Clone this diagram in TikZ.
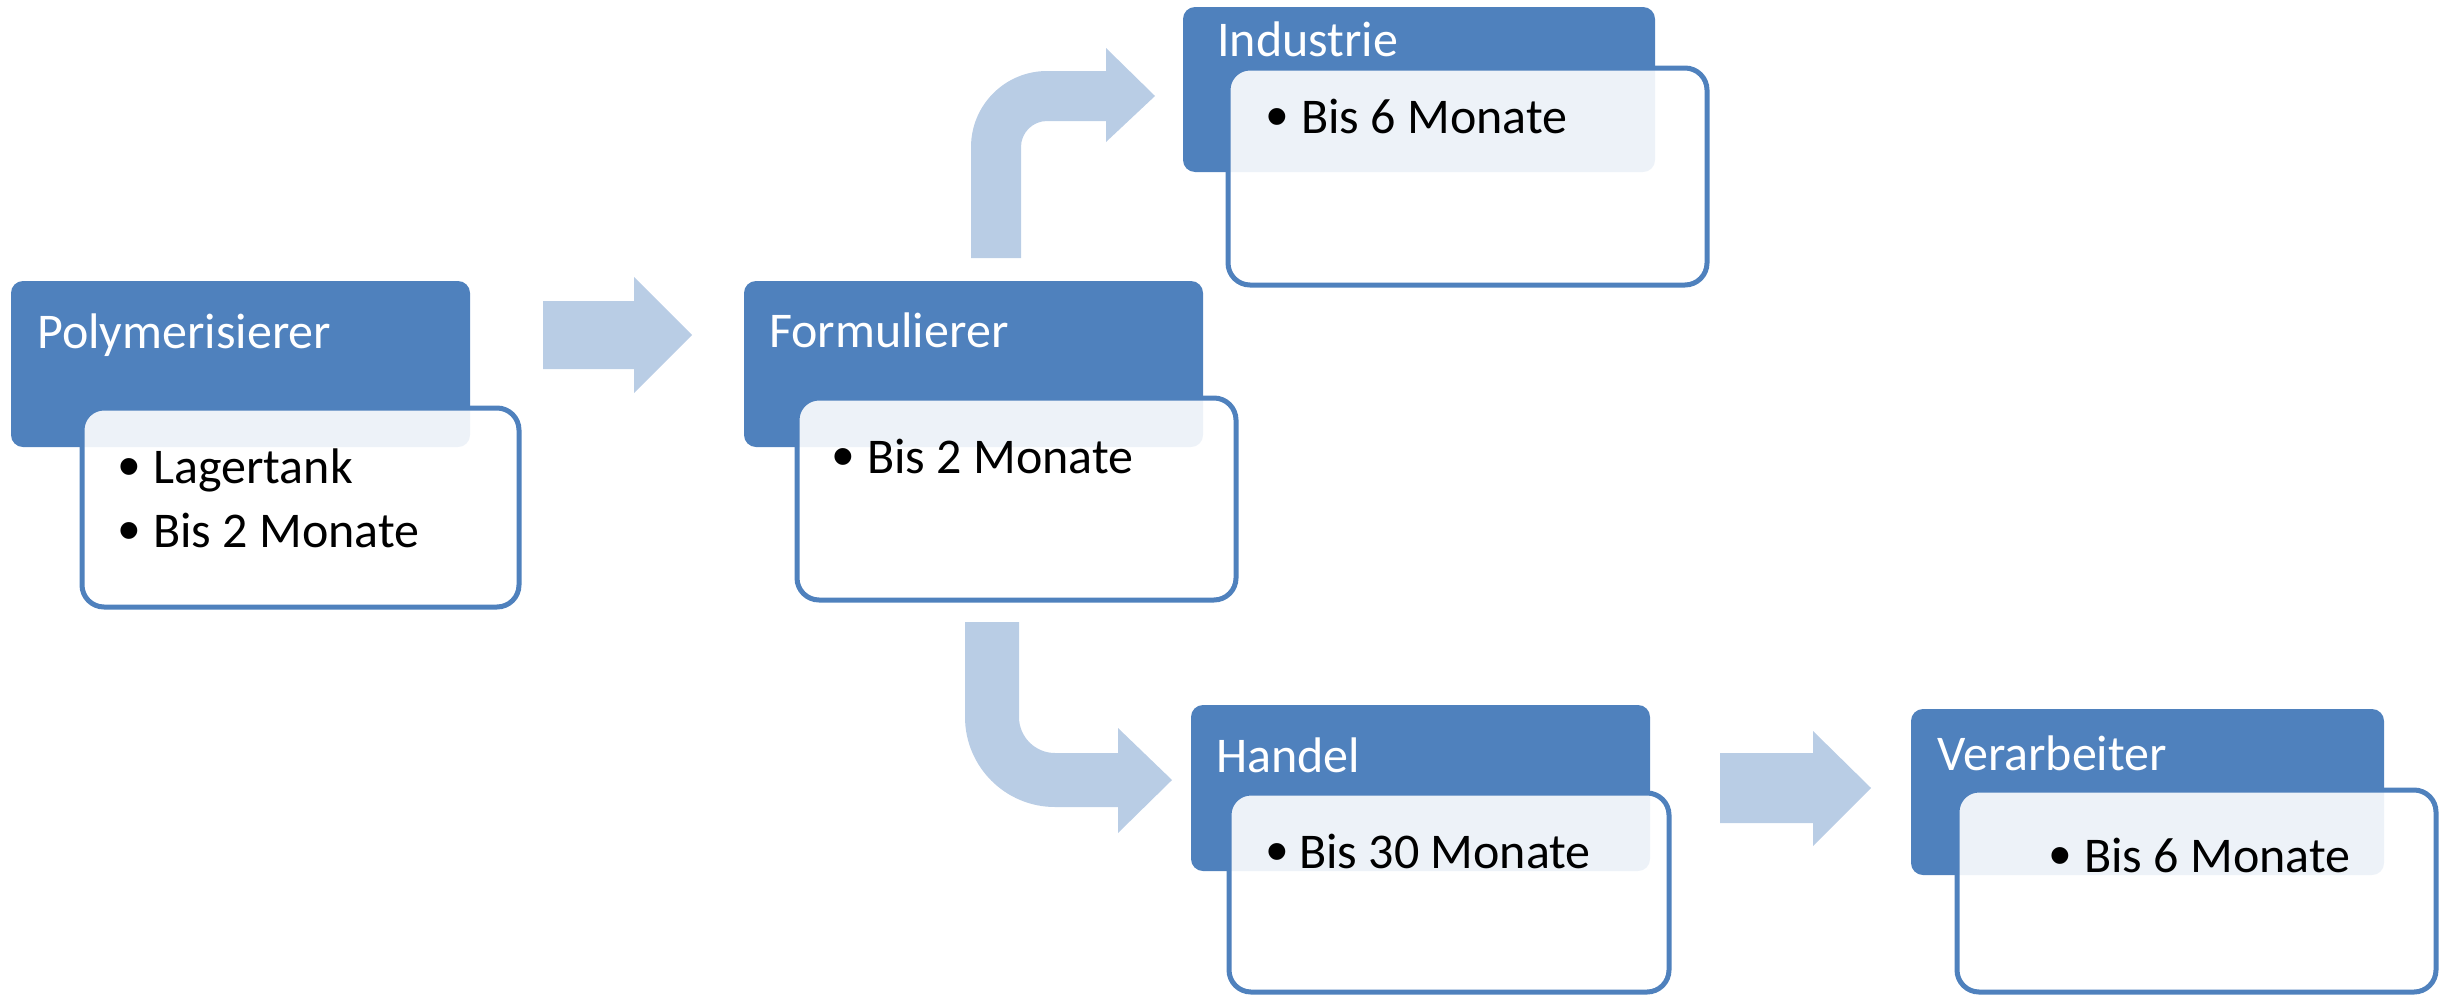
\documentclass[tikz,border=0pt]{standalone}
\usepackage{fontspec}
\setmainfont{Carlito}
\newfontfamily\bulfont{Liberation Sans}
\definecolor{hdr}{RGB}{79,129,189}
\definecolor{arr}{RGB}{185,205,229}
\tikzset{
  hdrbox/.style={rectangle, fill=hdr, draw=none, rounded corners=12pt, inner sep=0pt, outer sep=0pt, anchor=north west},
  cntbox/.style={rectangle, fill=white, fill opacity=0.9, draw=hdr, draw opacity=1, line width=5pt, rounded corners=22pt, inner sep=0pt, outer sep=0pt, anchor=north west},
  ttl/.style={anchor=base west, text=white, inner sep=0pt, font=\fontsize{50}{60}\selectfont},
  itm/.style={anchor=base west, text=black, inner sep=0pt, font=\fontsize{50}{60}\selectfont},
  bul/.style={anchor=base, text=black, inner sep=0pt, yshift=-4pt, font=\bulfont\fontsize{62}{70}\selectfont},
  blockarrow/.style={fill=arr, draw=none}
}
\begin{document}
\begin{tikzpicture}[x=1pt,y=-1pt]
\useasboundingbox (0,0) rectangle (2440,996);

% ---- arrows ----
\fill[blockarrow] (543,301) -- (634,301) -- (634,277) -- (692,335) -- (634,393) -- (634,369) -- (543,369) -- cycle;
\fill[blockarrow] (1720,753) -- (1813,753) -- (1813,731) -- (1871,788) -- (1813,846) -- (1813,823) -- (1720,823) -- cycle;
\fill[blockarrow] (971,258) -- (971,147) arc[start angle=180, end angle=270, radius=76]
   -- (1106,71) -- (1106,48) -- (1155,96) -- (1106,142) -- (1106,121) -- (1047,121)
   arc[start angle=270, end angle=180, radius=26] -- (1021,258) -- cycle;
\fill[blockarrow] (965,622) -- (965,717) arc[start angle=180, end angle=90, radius=90]
   -- (1118,807) -- (1118,833) -- (1172,780) -- (1118,728) -- (1118,753) -- (1055,753)
   arc[start angle=90, end angle=180, radius=36] -- (1019,622) -- cycle;

% ---- Polymerisierer ----
\node[hdrbox, minimum width=459pt, minimum height=166pt] (h1) at (11,281) {};
\node[cntbox, minimum width=437pt, minimum height=199pt] (c1) at (82,408) {};
\node[ttl] (t1) at (37,348) {Polymerisierer};
\node[bul] (b1a) at (129,483) {•};
\node[itm] (i1a) at (153,483) {Lagertank};
\node[bul] (b1b) at (129,547) {•};
\node[itm] (i1b) at (153,547) {Bis 2 Monate};

% ---- Formulierer ----
\node[hdrbox, minimum width=459pt, minimum height=166pt] (h2) at (744,281) {};
\node[cntbox, minimum width=439pt, minimum height=202pt] (c2) at (797,398) {};
\node[ttl] (t2) at (769,347) {Formulierer};
\node[bul] (b2) at (843,473) {•};
\node[itm] (i2) at (867,473) {Bis 2 Monate};

% ---- Industrie ----
\node[hdrbox, minimum width=472pt, minimum height=165pt] (h3) at (1183,7) {};
\node[cntbox, minimum width=479pt, minimum height=217pt] (c3) at (1228,68) {};
\node[ttl] (t3) at (1217,56) {Industrie};
\node[bul] (b3) at (1277,133) {•};
\node[itm] (i3) at (1301,133) {Bis 6 Monate};

% ---- Handel ----
\node[hdrbox, minimum width=459pt, minimum height=166pt] (h4) at (1191,705) {};
\node[cntbox, minimum width=440pt, minimum height=199pt] (c4) at (1229,793) {};
\node[ttl] (t4) at (1216,772) {Handel};
\node[bul] (b4) at (1277,868) {•};
\node[itm] (i4) at (1299,868) {Bis 30 Monate};

% ---- Verarbeiter ----
\node[hdrbox, minimum width=473pt, minimum height=166pt] (h5) at (1911,709) {};
\node[cntbox, minimum width=479pt, minimum height=202pt] (c5) at (1957,790) {};
\node[ttl] (t5) at (1937,770) {Verarbeiter};
\node[bul] (b5) at (2060,872) {•};
\node[itm] (i5) at (2084,872) {Bis 6 Monate};
\end{tikzpicture}
\end{document}
